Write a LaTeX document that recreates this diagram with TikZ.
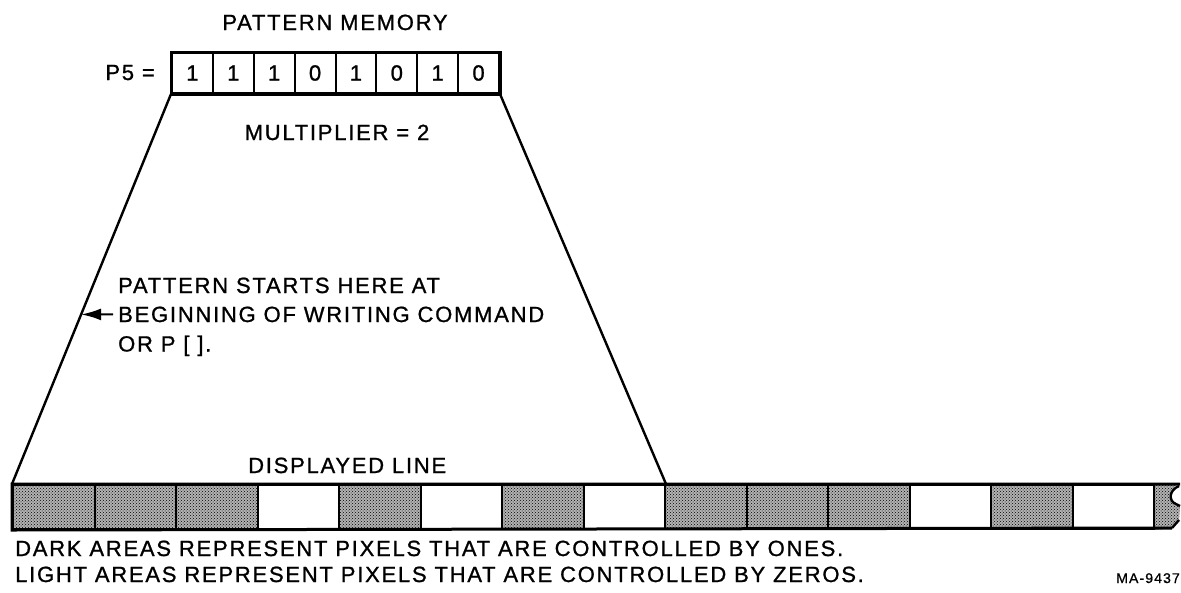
\documentclass[tikz,border=0pt]{standalone}
\usepackage{fontspec}
\setmainfont{Liberation Sans}[LetterSpace=8, FakeBold=1]
\usetikzlibrary{patterns,calc,arrows.meta}
\tikzset{
  lbl/.style={font=\fontsize{22}{26}\selectfont, inner sep=0pt},
  small/.style={font=\fontsize{14}{16}\selectfont, inner sep=0pt},
  memcell/.style={draw, line width=2pt, minimum width=40.875pt, minimum height=40pt, inner sep=0pt, anchor=north west, font=\fontsize{22}{26}\selectfont},
  pix/.style={draw, line width=2pt, minimum width=81.5pt, minimum height=44pt, inner sep=0pt, anchor=north west},
  darkpix/.style={pix, preaction={fill=black!30}, pattern=crosshatch dots},
  lightpix/.style={pix, fill=white},
  edge/.style={line width=2.4pt},
  frame/.style={line width=3pt}
}
\begin{document}
\begin{tikzpicture}[x=1pt,y=-1pt]
\useasboundingbox (0,0) rectangle (1181,592);
% pattern memory
\node[lbl,anchor=base] (title) at (335,30) {PATTERN MEMORY};
\node[lbl,anchor=base east] (p5) at (155,80) {P5 =};
\foreach \v [count=\i from 0] in {1,1,1,0,1,0,1,0} {
  \node[memcell] (m\i) at ({171+\i*40.875},52) {\v};
}
\draw[frame] (m0.north west) rectangle (m7.south east);
\node[lbl,anchor=base] (mult) at (337,140) {MULTIPLIER = 2};
% displayed line
\node[lbl,anchor=base west] (dl) at (248,473) {DISPLAYED LINE};
\foreach \f [count=\i from 0] in {1,1,1,0,1,0,1,0,1,1,1,0,1,0} {
  \ifnum\f=1
    \node[darkpix] (d\i) at ({12+\i*81.5},484) {};
  \else
    \node[lightpix] (d\i) at ({12+\i*81.5},484) {};
  \fi
}
% partial last cell with break
\coordinate (brt) at (1180,484);
\coordinate (brb) at (1172,528);
\path[preaction={fill=black!30}, pattern=crosshatch dots]
  (d13.north east) -- (1178,484) .. controls (1169,489) and (1168,501) .. (1176,504)
  -- (1180,506) -- (1179,520) -- (brb) -- (d13.south east) -- cycle;
\draw[edge] (1179,486) .. controls (1169,490) and (1168,501) .. (1176,504) -- (1180,506);
\draw[edge] (1179,520) -- (brb);
\draw[frame] (brt) -- (d0.north west) -- (d0.south west) -- (brb);
% trapezoid
\draw[edge] (m0.south west) -- (d0.north west);
\draw[edge] (m7.south east) -- (d7.north east);
% annotation
\node[lbl,anchor=base west] (t1) at (118,293) {PATTERN STARTS HERE AT};
\node[lbl,anchor=base west] (t2) at (118,322) {BEGINNING OF WRITING COMMAND};
\node[lbl,anchor=base west] (t3) at (118,351.5) {OR P [ ].};
\coordinate (hit) at (intersection of m0.south west--d0.north west and t2.west--t2.east);
\draw[line width=2pt,-{Latex[length=20pt,width=12pt]}] ([xshift=-5pt]t2.west) -- (hit);
% notes
\node[lbl,anchor=base west] (n1) at (15,556) {DARK AREAS REPRESENT PIXELS THAT ARE CONTROLLED BY ONES.};
\node[lbl,anchor=base west] (n2) at (15,582) {LIGHT AREAS REPRESENT PIXELS THAT ARE CONTROLLED BY ZEROS.};
\node[small,anchor=base east] (ma) at (1180,583) {MA-9437};
\end{tikzpicture}
\end{document}
